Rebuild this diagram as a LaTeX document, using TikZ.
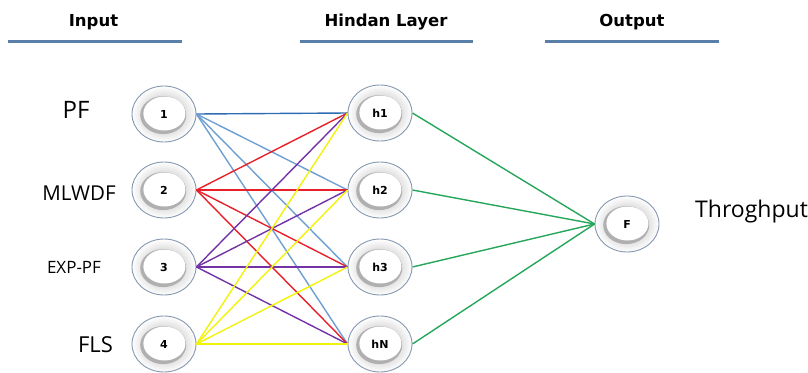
\documentclass[tikz,border=0pt]{standalone}
\usepackage{fontspec}
\usetikzlibrary{shapes.geometric}
\newfontfamily\headfont{DejaVu Sans}
\newfontfamily\labelfont{Open Sans}
\definecolor{rulecol}{HTML}{5A7FA8}
\definecolor{ringcol}{HTML}{8598B0}
\definecolor{wdark}{HTML}{2E6DB4}
\definecolor{wblue}{HTML}{6E9FD0}
\definecolor{wred}{HTML}{E8202A}
\definecolor{wpurple}{HTML}{7332A6}
\definecolor{wyellow}{HTML}{F2F20A}
\definecolor{wgreen}{HTML}{26A65B}
\tikzset{
  neuron/.style={ellipse, minimum width=64pt, minimum height=56pt, inner sep=0pt,
    draw=ringcol, line width=0.9pt, fill=white,
    font=\headfont\bfseries\fontsize{11}{13}\selectfont,
    path picture={
      \shade[inner color=gray!70, outer color=white]
        (path picture bounding box.center) ellipse [x radius=32pt, y radius=28pt];
      \fill[gray!62]
        ([shift={(-0.8pt,-1.1pt)}]path picture bounding box.center) ellipse [x radius=23pt, y radius=19pt];
      \fill[white]
        ([shift={(0.4pt,0.5pt)}]path picture bounding box.center) ellipse [x radius=21pt, y radius=17pt];
    }},
  heading/.style={font=\headfont\bfseries\fontsize{16.5}{18}\selectfont, anchor=base, inner sep=0pt},
  rule/.style={rulecol, line width=3pt},
  inlabel/.style={font=\labelfont, anchor=base, inner sep=0pt},
  wire/.style={line width=1.4pt}
}
\begin{document}
\begin{tikzpicture}[x=1pt, y=-1pt]
  \useasboundingbox (0,0) rectangle (808,372);

  % column headings and their underlines
  \node[heading] (hin)  at (93.5,26.5) {Input};
  \node[heading] (hhid) at (386,26.5) {Hindan Layer};
  \node[heading] (hout) at (632,26.5) {Output};
  \draw[rule] (8,41.5) -- (182,41.5);
  \draw[rule] (300,41.5) -- (473,41.5);
  \draw[rule] (545,41.5) -- (719,41.5);

  % input units
  \node[neuron] (i1) at (164,114) {1};
  \node[neuron] (i2) at (164,190) {2};
  \node[neuron] (i3) at (164,267) {3};
  \node[neuron] (i4) at (164,344) {4};

  % hidden units
  \node[neuron] (h1) at (380,113) {h1};
  \node[neuron] (h2) at (380,190) {h2};
  \node[neuron] (h3) at (380,267) {h3};
  \node[neuron] (hN) at (380,344) {hN};

  % output unit
  \node[neuron] (o) at (627,224) {F};

  % input names
  \node[inlabel, font=\labelfont\fontsize{24}{26}\selectfont] (lpf) at (76,118) {PF};
  \node[inlabel, font=\labelfont\fontsize{20.5}{22}\selectfont] (lml) at (79,200) {MLWDF};
  \node[inlabel, font=\labelfont\fontsize{17}{19}\selectfont] (lex) at (74,273) {EXP-PF};
  \node[inlabel, font=\labelfont\fontsize{22}{24}\selectfont] (lfl) at (95.5,352) {FLS};
  \node[inlabel, anchor=base west, font=\labelfont\fontsize{23}{25}\selectfont] (lth) at (695,217) {Throghput};

  % connections input -> hidden
  \draw[wire, wdark] (i1.east) -- (h1.west);
  \foreach \h in {h2,h3,hN} \draw[wire, wblue] (i1.east) -- (\h.west);
  \foreach \h in {h1,h2,h3,hN} \draw[wire, wred] (i2.east) -- (\h.west);
  \foreach \h in {h1,h2,h3,hN} \draw[wire, wpurple] (i3.east) -- (\h.west);
  \foreach \h in {h1,h2,h3,hN} \draw[wire, wyellow] (i4.east) -- (\h.west);

  % connections hidden -> output
  \foreach \h in {h1,h2,h3,hN} \draw[wire, wgreen] (\h.east) -- (o.west);
\end{tikzpicture}
\end{document}
